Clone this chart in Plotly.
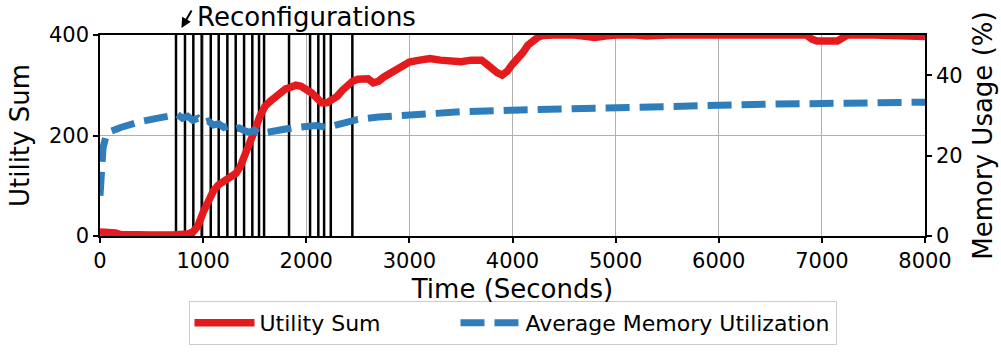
import plotly.graph_objects as go

# Utility sum over time (left axis)
util_t = [0, 100, 150, 200, 300, 500, 700, 800, 850, 900, 950, 1000, 1050, 1100,
          1150, 1200, 1260, 1320, 1360, 1400, 1450, 1500, 1550, 1600, 1650, 1700,
          1750, 1800, 1850, 1900, 1950, 2000, 2050, 2100, 2150, 2200, 2250, 2300,
          2350, 2400, 2450, 2500, 2550, 2600, 2650, 2700, 2750, 2800, 2850, 2900,
          2950, 3000, 3100, 3200, 3300, 3400, 3500, 3600, 3700, 3750, 3800, 3850,
          3900, 3950, 4000, 4050, 4100, 4150, 4200, 4250, 4300, 4350, 4400, 4600,
          4700, 4800, 4900, 5000, 5200, 5300, 5500, 5700, 5900, 6100, 6300, 6500,
          6700, 6850, 6900, 6950, 7150, 7200, 7250, 7500, 7700, 7800, 8000]
util_sum = [8, 8, 6, 3, 2, 2, 2, 3, 4, 8, 20, 47, 72, 90,
            102, 110, 118, 125, 138, 158, 178, 210, 238, 258, 268, 278,
            288, 293, 296, 300, 298, 292, 285, 275, 265, 265, 270, 278,
            290, 300, 308, 312, 314, 313, 305, 308, 316, 322, 330, 338,
            342, 346, 350, 353, 350, 347, 347, 350, 350, 342, 332, 325,
            320, 328, 342, 352, 365, 380, 390, 396, 399, 400, 400, 400,
            396, 395, 398, 400, 400, 398, 400, 400, 399, 400, 400, 400,
            400, 400, 392, 388, 388, 396, 400, 400, 400, 397, 397]

# Average memory utilization in percent (right axis)
mem_t = [0, 30, 60, 100, 200, 400, 600, 750, 800, 850, 900, 950, 1000, 1050,
         1100, 1150, 1200, 1250, 1300, 1350, 1400, 1450, 1500, 1550, 1600, 1650,
         1700, 1800, 1900, 2000, 2100, 2200, 2300, 2400, 2500, 2700, 3000, 3500,
         4000, 4500, 5000, 5500, 6000, 6500, 7000, 7500, 8000]
mem_pct = [10, 22, 25, 26, 27, 28.5, 29.5, 30.2, 29.3, 29.8, 28.8, 29.3, 28.2, 28.6,
           27.6, 27.9, 27.0, 27.4, 26.6, 26.9, 26.2, 25.8, 26.3, 25.4, 25.7, 26.0,
           26.3, 26.6, 27.0, 27.3, 27.5, 27.0, 27.6, 28.5, 29.0, 29.6, 30.2, 30.9,
           31.3, 31.7, 32.0, 32.2, 32.5, 32.8, 33.0, 33.2, 33.3]

# Times at which a reconfiguration happened
reconfig_t = [737, 824, 905, 986, 1074, 1151, 1235, 1316, 1397, 1477, 1542, 1591,
              1833, 2037, 2117, 2173, 2238, 2447]

x_ticks = [0, 1000, 2000, 3000, 4000, 5000, 6000, 7000, 8000]
util_ticks = [0, 200, 400]
util_range = [0, 400]
mem_ticks = [0, 20, 40]
mem_range = [0, 50]

RED = "#e41a1c"
BLUE = "#2f7dba"
FONT = "DejaVu Sans"
NBSP = "\u00a0"

# One vertical segment per reconfiguration, spanning the whole left-axis range
vx, vy = [], []
for t in reconfig_t:
    vx += [t, t, None]
    vy += [util_range[0], util_range[1], None]

fig = go.Figure()

fig.add_trace(go.Scatter(
    x=vx, y=vy, mode="lines", showlegend=False, hoverinfo="skip",
    line=dict(color="black", width=2.5), yaxis="y",
))
fig.add_trace(go.Scatter(
    x=util_t, y=util_sum, mode="lines", name="Utility Sum" + NBSP * 10,
    line=dict(color=RED, width=7.5), yaxis="y",
))
fig.add_trace(go.Scatter(
    x=mem_t, y=mem_pct, mode="lines", name="Average Memory Utilization",
    line=dict(color=BLUE, width=7, dash="24px,10px"), yaxis="y2",
))

# Label with a small arrow pointing at the first reconfiguration
fig.add_annotation(x=790, y=1.035, xref="x", yref="paper", text="",
                   showarrow=True, arrowhead=2, arrowsize=1, arrowwidth=2,
                   arrowcolor="black", ax=11, ay=-19)
fig.add_annotation(x=921, y=1.09, xref="x", yref="paper", text="Reconfigurations",
                   showarrow=False, xanchor="left", yanchor="middle",
                   font=dict(size=26, color="black", family=FONT))

axis_common = dict(
    showline=True, linecolor="black", linewidth=1.5,
    ticks="outside", ticklen=5, tickwidth=1.5, tickcolor="black",
    tickfont=dict(size=21, color="black", family=FONT),
    zeroline=False, automargin=False,
)

fig.update_layout(
    width=1001, height=356,
    margin=dict(l=100, r=76, t=35, b=119),
    paper_bgcolor="white", plot_bgcolor="white",
    font=dict(family=FONT, color="black"),
    showlegend=True,
    legend=dict(
        orientation="h", x=0.5, xanchor="center", y=-0.317, yanchor="top",
        font=dict(size=22, family=FONT, color="black"),
        bordercolor="#cccccc", borderwidth=1, bgcolor="white",
        itemwidth=60,
    ),
    xaxis=dict(
        range=[0, 8000], tickvals=x_ticks, mirror=True,
        showgrid=True, gridcolor="#b0b0b0", gridwidth=1,
        title=dict(text="Time (Seconds)", font=dict(size=26, family=FONT), standoff=8),
        **axis_common,
    ),
    yaxis=dict(
        range=util_range, tickvals=util_ticks,
        showgrid=True, gridcolor="#b0b0b0", gridwidth=1,
        title=dict(text="Utility Sum", font=dict(size=26, family=FONT), standoff=12),
        **axis_common,
    ),
    yaxis2=dict(
        range=mem_range, tickvals=mem_ticks, overlaying="y", side="right",
        showgrid=False,
        title=dict(text="Memory Usage (%)", font=dict(size=26, family=FONT), standoff=12),
        **axis_common,
    ),
)

fig.write_html("out.html")
